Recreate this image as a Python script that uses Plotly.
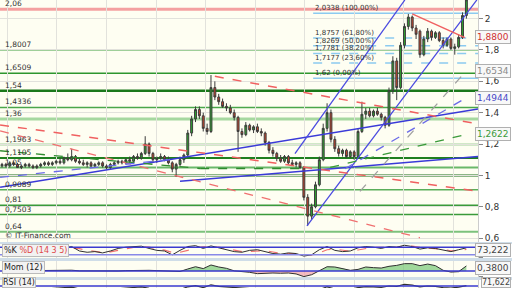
import plotly.graph_objects as go

# ---------------- data ----------------
opens = [1.06,1.07,1.06,1.08,1.07,1.05,1.06,1.07,1.06,1.05,1.06,1.07,1.08,1.07,1.08,1.09,1.08,1.11,1.10,1.12,
         1.09,1.08,1.07,1.08,1.06,1.07,1.08,1.06,1.05,1.07,1.08,1.09,1.08,1.10,1.09,1.12,1.11,1.14,1.20,1.14,
         1.10,1.11,1.12,1.10,1.08,1.04,1.07,1.10,1.13,1.27,1.36,1.42,1.38,1.30,1.28,1.56,1.50,1.47,1.44,1.43,
         1.40,1.37,1.28,1.26,1.32,1.29,1.31,1.28,1.27,1.21,1.16,1.14,1.11,1.09,1.12,1.08,1.07,1.08,1.05,0.86,
         0.74,0.80,0.94,1.10,1.30,1.40,1.23,1.17,1.14,1.16,1.12,1.15,1.12,1.28,1.39,1.41,1.38,1.41,1.39,1.37,
         1.32,1.54,1.73,1.56,1.83,1.95,2.01,1.94,1.92,1.77,1.87,1.92,1.88,1.91,1.86,1.83,1.87,1.81,1.82,1.88,2.02]
highs = [1.08,1.08,1.09,1.09,1.08,1.07,1.08,1.08,1.07,1.07,1.08,1.09,1.09,1.09,1.10,1.11,1.12,1.14,1.17,1.13,
         1.11,1.10,1.09,1.09,1.08,1.09,1.09,1.07,1.08,1.09,1.10,1.10,1.11,1.12,1.13,1.14,1.15,1.25,1.21,1.15,
         1.12,1.14,1.13,1.12,1.09,1.08,1.12,1.14,1.29,1.38,1.44,1.44,1.40,1.33,1.64,1.60,1.52,1.49,1.46,1.45,
         1.42,1.38,1.30,1.34,1.33,1.32,1.33,1.30,1.28,1.22,1.18,1.15,1.13,1.13,1.13,1.10,1.09,1.09,1.06,0.88,
         0.82,0.96,1.12,1.33,1.46,1.42,1.25,1.19,1.17,1.17,1.16,1.16,1.30,1.47,1.43,1.43,1.42,1.43,1.40,1.38,
         1.56,1.76,1.75,1.85,1.97,2.03,2.02,1.96,1.93,1.89,1.94,1.93,1.92,1.92,1.88,1.88,1.88,1.84,1.90,2.04,2.15]
lows = [1.05,1.05,1.05,1.06,1.05,1.04,1.05,1.05,1.04,1.04,1.05,1.06,1.06,1.06,1.07,1.07,1.07,1.09,1.09,1.08,
        1.07,1.06,1.05,1.05,1.05,1.06,1.05,1.04,1.04,1.06,1.07,1.07,1.07,1.08,1.08,1.10,1.10,1.13,1.12,1.08,
        1.08,1.10,1.09,1.07,1.02,0.99,1.06,1.08,1.12,1.25,1.34,1.36,1.28,1.26,1.27,1.48,1.45,1.43,1.41,1.39,
        1.35,1.15,1.24,1.25,1.28,1.27,1.27,1.25,1.19,1.14,1.12,1.09,1.08,1.08,1.07,1.06,1.05,1.04,0.84,0.68,
        0.72,0.79,0.93,1.09,1.28,1.21,1.15,1.12,1.12,1.11,1.11,1.10,1.11,1.27,1.36,1.37,1.37,1.38,1.35,1.30,
        1.31,1.52,1.48,1.55,1.81,1.93,1.92,1.87,1.75,1.76,1.85,1.86,1.87,1.85,1.81,1.82,1.80,1.77,1.81,1.87,2.00]
closes = [1.07,1.06,1.08,1.07,1.05,1.06,1.07,1.06,1.05,1.06,1.07,1.08,1.07,1.08,1.09,1.08,1.11,1.10,1.12,1.09,
          1.08,1.07,1.08,1.06,1.07,1.08,1.06,1.05,1.07,1.08,1.09,1.08,1.10,1.09,1.12,1.11,1.14,1.20,1.14,1.10,
          1.11,1.12,1.10,1.08,1.04,1.07,1.10,1.13,1.27,1.36,1.42,1.38,1.30,1.28,1.56,1.50,1.47,1.44,1.43,1.40,
          1.37,1.28,1.26,1.32,1.29,1.31,1.28,1.27,1.21,1.16,1.14,1.11,1.09,1.12,1.08,1.07,1.08,1.05,0.86,0.74,
          0.80,0.94,1.10,1.30,1.40,1.23,1.17,1.14,1.16,1.12,1.15,1.12,1.28,1.39,1.41,1.38,1.41,1.39,1.37,1.32,
          1.54,1.73,1.56,1.83,1.95,2.01,1.94,1.90,1.77,1.87,1.92,1.88,1.91,1.86,1.83,1.87,1.81,1.82,1.88,2.02,2.12]

level_vals = [2.06, 1.8007, 1.6509, 1.54, 1.4336, 1.36, 1.1963, 1.1105, 1.05, 1.0, 0.9089, 0.81, 0.7503, 0.64]
level_labels = ["2,06", "1,8007", "1,6509", "1,54", "1,4336", "1,36", "1,1963", "1,1105", "1,05", "",
                "0,9089", "0,81", "0,7503", "0,64"]

fib_vals = [2.0338, 1.8757, 1.8269, 1.7781, 1.7177, 1.62]
fib_labels = ["2,0338 (100,00%)", "1,8757 (61,80%)", "1,8269 (50,00%)", "1,7781 (38,20%)",
              "1,7177 (23,60%)", "1,62 (0,00%)"]

# trend lines: (x0, y0, x1, y1) in bar index / price
trend_x0 = [-0.5, 46.0, 78.8, 75.7, 55.0, -0.5, -0.5, 106.0, -0.5, 51.2, 84.8, 92.5, 88.6, -0.5]
trend_y0 = [0.924, 0.962, 0.678, 1.139, 1.632, 1.322, 1.284, 2.030, 1.157, 1.044, 1.051, 0.898, 1.042, 0.987]
trend_x1 = [123.0, 123.0, 122.7, 104.1, 123.0, 123.0, 108.0, 119.6, 51.2, 77.0, 119.6, 119.6, 119.6, 43.4]
trend_y1 = [1.423, 1.120, 2.119, 2.119, 1.328, 0.899, 0.602, 1.879, 1.044, 1.044, 1.259, 1.657, 1.490, 1.101]

stoch_k = [30,40,25,45,30,45,55,60,75,85,50,40,45,35,50,70,80,85,88,70,55,50,20,55,85,92,70,90,75,55,
           45,40,55,60,45,30,25,35,30,10,20,60,85,55,45,50,75,85,80,70,85,80,95,85,65,75,70,55,45,60,75]
stoch_d = [35,33,32,37,33,40,47,55,63,75,68,55,45,40,43,52,67,78,84,80,68,57,38,40,55,78,82,82,80,70,
           55,45,46,52,53,42,32,30,30,22,18,35,60,65,58,48,58,72,80,78,80,80,88,88,78,72,70,63,52,52,62]
mom = [0.00,0.01,-0.02,0.00,-0.01,0.01,0.01,0.03,0.05,0.06,0.01,0.01,0.00,-0.02,-0.03,0.00,0.03,0.05,0.08,0.05,
       0.03,0.00,-0.05,-0.04,0.15,0.32,0.18,0.45,0.30,0.20,0.01,-0.02,-0.10,-0.20,-0.15,-0.15,-0.17,-0.15,-0.22,-0.42,
       -0.28,0.02,0.32,0.30,0.20,0.05,0.12,0.30,0.25,0.22,0.35,0.42,0.55,0.55,0.40,0.52,0.40,0.05,-0.08,-0.05,0.38]
rsi = [52,54,50,53,51,54,56,58,62,64,55,52,53,50,51,56,60,63,66,58,55,54,45,52,66,72,62,76,68,64,
       60,55,57,56,50,45,43,46,44,30,35,52,66,55,52,53,62,67,66,63,70,68,78,74,66,70,68,62,60,64,72]

price_ticks = [0.6, 0.8, 1.0, 1.2, 1.4, 1.6, 1.8, 2.0]
right_vals = [1.88, 1.6534, 1.4944, 1.2622]
right_texts = ["1,8800", "1,6534", "1,4944", "1,2622"]
panel_texts = ["73,222", "0,3800", "71,622"]

# ---------------- figure ----------------
n = len(closes)
idx = list(range(n))
sub_idx = list(range(0, n, 2))

fig = go.Figure()

fig.add_trace(go.Candlestick(
    x=idx, open=opens, high=highs, low=lows, close=closes,
    increasing=dict(line=dict(color='#3c3c3c', width=1), fillcolor='#2fa52f'),
    decreasing=dict(line=dict(color='#3c3c3c', width=1), fillcolor='#c8452c'),
    whiskerwidth=0, showlegend=False, hoverinfo='skip', xaxis='x', yaxis='y'))

trend_styles = [
    ('#3a3ad8', 1.5, 'solid'), ('#3a3ad8', 1.5, 'solid'), ('#4a4ae0', 1.3, 'solid'), ('#4a4ae0', 1.3, 'solid'),
    ('#f06060', 1.5, 'dash'), ('#f06060', 1.5, 'dash'), ('#f07070', 1.3, 'dash'), ('#f06060', 1.5, 'solid'),
    ('#2e8b2e', 1.3, 'dash'), ('#2e8b2e', 1.3, 'dash'), ('#3a9a3a', 1.3, 'dash'), ('#a0a0a0', 1.3, 'dash'),
    ('#6a6ae8', 1.3, 'dash'), ('#6a6ae8', 1.3, 'dash'),
]
for k in range(len(trend_x0)):
    c, w, d = trend_styles[k]
    fig.add_trace(go.Scatter(x=[trend_x0[k], trend_x1[k]], y=[trend_y0[k], trend_y1[k]], mode='lines',
                             line=dict(color=c, width=w, dash=d), showlegend=False, hoverinfo='skip',
                             xaxis='x', yaxis='y', cliponaxis=True))

# stochastic
fig.add_trace(go.Scatter(x=sub_idx, y=stoch_d, mode='lines', line=dict(color='#f07070', width=1.2, dash='dash'),
                         showlegend=False, hoverinfo='skip', xaxis='x2', yaxis='y2'))
fig.add_trace(go.Scatter(x=sub_idx, y=stoch_k, mode='lines', line=dict(color='#303030', width=1),
                         showlegend=False, hoverinfo='skip', xaxis='x2', yaxis='y2'))
# momentum
mom_pos = [max(v, 0) for v in mom]
mom_neg = [min(v, 0) for v in mom]
fig.add_trace(go.Scatter(x=sub_idx, y=mom_pos, mode='lines', line=dict(width=0), fill='tozeroy',
                         fillcolor='rgba(120,200,120,0.7)', showlegend=False, hoverinfo='skip', xaxis='x3', yaxis='y3'))
fig.add_trace(go.Scatter(x=sub_idx, y=mom_neg, mode='lines', line=dict(width=0), fill='tozeroy',
                         fillcolor='rgba(240,160,170,0.7)', showlegend=False, hoverinfo='skip', xaxis='x3', yaxis='y3'))
fig.add_trace(go.Scatter(x=sub_idx, y=mom, mode='lines', line=dict(color='#303030', width=1),
                         showlegend=False, hoverinfo='skip', xaxis='x3', yaxis='y3'))
# rsi
fig.add_trace(go.Scatter(x=sub_idx, y=rsi, mode='lines', line=dict(color='#303030', width=1.2),
                         showlegend=False, hoverinfo='skip', xaxis='x4', yaxis='y4'))

shapes = []
level_styles = [('#f4a0a0', 3), ('#40a040', 1.5), ('#2e962e', 1.5), ('#1a781a', 2.5), ('#4aa64a', 1.5),
                ('#a6d8a0', 3), ('#4aa64a', 1.5), ('#1f7f1f', 2), ('#6ab86a', 2), ('#1a6e1a', 2),
                ('#5aae5a', 1.5), ('#3a9a3a', 1.5), ('#3a9a3a', 1.5), ('#7cc27c', 2)]
for v, (c, w) in zip(level_vals, level_styles):
    shapes.append(dict(type='line', xref='paper', yref='y', x0=0, x1=1, y0=v, y1=v,
                       line=dict(color=c, width=w), layer='below'))
for j, v in enumerate(fib_vals):
    solid = j in (0, len(fib_vals) - 1)
    shapes.append(dict(type='line', xref='x', yref='y', x0=80.4, x1=123.0, y0=v, y1=v,
                       line=dict(color='#8ccaf0', width=1.5, dash='solid' if solid else 'dash'), layer='below'))
# indicator reference lines
shapes.append(dict(type='line', xref='paper', yref='y2', x0=0, x1=1, y0=80, y1=80, line=dict(color='#3a3ad0', width=1.5)))
shapes.append(dict(type='line', xref='paper', yref='y2', x0=0, x1=1, y0=20, y1=20, line=dict(color='#8888e8', width=1.5)))
shapes.append(dict(type='line', xref='paper', yref='y3', x0=0, x1=1, y0=0, y1=0, line=dict(color='#3a3ad0', width=1.5)))
shapes.append(dict(type='line', xref='paper', yref='y4', x0=0, x1=1, y0=70, y1=70, line=dict(color='#3a3ad0', width=1.5)))
# panel separators
for (a, b) in [(0.1528, 0.1597), (0.0938, 0.1042), (0.0278, 0.0382)]:
    shapes.append(dict(type='rect', xref='paper', yref='paper', x0=0, x1=1.0711, y0=a, y1=b,
                       fillcolor='#cfdde8', line=dict(width=0), layer='above'))

annotations = []
for v, t in zip(level_vals, level_labels):
    if t:
        annotations.append(dict(xref='paper', yref='y', x=0.006, y=v, text=t, showarrow=False,
                                xanchor='left', yanchor='bottom', font=dict(size=7.5, color='#333'), yshift=-1))
for v, t in zip(fib_vals, fib_labels):
    annotations.append(dict(xref='x', yref='y', x=80.4, y=v, text=t, showarrow=False,
                            xanchor='left', yanchor='bottom', font=dict(size=7, color='#333'), yshift=-1))
right_colors = ['#d03030', '#8a8a8a', '#4848c8', '#3a9a3a']
right_shift = [0, 2, 0, 0]
for v, t, c, s in zip(right_vals, right_texts, right_colors, right_shift):
    annotations.append(dict(xref='paper', yref='y', x=1.068, y=v, text=t, showarrow=False, xanchor='right',
                            font=dict(size=9, color=c), bgcolor='#f8f8f8', bordercolor='#b0b0b0',
                            borderwidth=1, borderpad=1, yshift=s))
for t, ypos, anc, fs in zip(panel_texts, [0.131, 0.068, 0.0], ['middle', 'middle', 'bottom'], [9, 9, 8]):
    annotations.append(dict(xref='paper', yref='paper', x=1.068, y=ypos, text=t, showarrow=False, xanchor='right',
                            yanchor=anc, font=dict(size=fs, color='#444'), bgcolor='#f8f8f8',
                            bordercolor='#b0b0b0', borderwidth=1, borderpad=0 if anc == 'bottom' else 1))
annotations.append(dict(xref='paper', yref='paper', x=0.006, y=0.1605, text='© IT-Finance.com', showarrow=False,
                        xanchor='left', yanchor='bottom', font=dict(size=7.5, color='#333')))
annotations.append(dict(xref='paper', yref='paper', x=0.004, y=0.152,
                        text="%K <span style='color:#e04848'>%D (14 3 5)</span>", showarrow=False,
                        xanchor='left', yanchor='top', font=dict(size=8, color='#222'),
                        bgcolor='#f2f2f2', bordercolor='#bbbbbb', borderwidth=1, borderpad=1))
annotations.append(dict(xref='paper', yref='paper', x=0.004, y=0.0935, text='Mom (12)', showarrow=False,
                        xanchor='left', yanchor='top', font=dict(size=8, color='#222'),
                        bgcolor='#f2f2f2', bordercolor='#bbbbbb', borderwidth=1, borderpad=1))
annotations.append(dict(xref='paper', yref='paper', x=0.004, y=0.0, text='RSI (14)', showarrow=False,
                        xanchor='left', yanchor='bottom', font=dict(size=8, color='#222'),
                        bgcolor='#f2f2f2', bordercolor='#bbbbbb', borderwidth=1, borderpad=0))

xgrid = dict(showgrid=True, gridcolor='#e2e2dc', gridwidth=1, tick0=14.2, dtick=12.8, showticklabels=False,
             ticks='', zeroline=False, showline=False, range=[-0.52, 123.0])

fig.update_layout(
    width=512, height=288, margin=dict(l=0, r=34, t=0, b=0),
    paper_bgcolor='#ffffff', plot_bgcolor='#fefef2', separators=',.',
    showlegend=False, shapes=shapes, annotations=annotations,
    font=dict(family='DejaVu Sans, Arial, sans-serif'),
    xaxis=dict(domain=[0, 1], anchor='y', rangeslider=dict(visible=False), **xgrid),
    xaxis2=dict(domain=[0, 1], anchor='y2', matches='x', **xgrid),
    xaxis3=dict(domain=[0, 1], anchor='y3', matches='x', **xgrid),
    xaxis4=dict(domain=[0, 1], anchor='y4', matches='x', **xgrid),
    yaxis=dict(domain=[0.1597, 1], range=[0.575, 2.1188], side='right', tickvals=price_ticks,
               showgrid=True, gridcolor='#e2e2dc', zeroline=False, ticks='outside', ticklen=4,
               tickcolor='#888', tickfont=dict(size=9, color='#333'), showline=True, linecolor='#cccccc'),
    yaxis2=dict(domain=[0.1042, 0.1528], range=[-5, 105], side='right', showgrid=False, zeroline=False,
                showticklabels=False, ticks='outside', tickvals=[0], ticklen=4, tickcolor='#888',
                showline=True, linecolor='#cccccc'),
    yaxis3=dict(domain=[0.0382, 0.0938], range=[-0.45, 0.75], side='right', showgrid=False, zeroline=False,
                showticklabels=False, ticks='outside', tickvals=[-0.4], ticklen=4, tickcolor='#888',
                showline=True, linecolor='#cccccc'),
    yaxis4=dict(domain=[0, 0.0278], range=[60, 100], side='right', showgrid=False, zeroline=False,
                showticklabels=False, showline=True, linecolor='#cccccc'),
)

fig.write_html("out.html")
